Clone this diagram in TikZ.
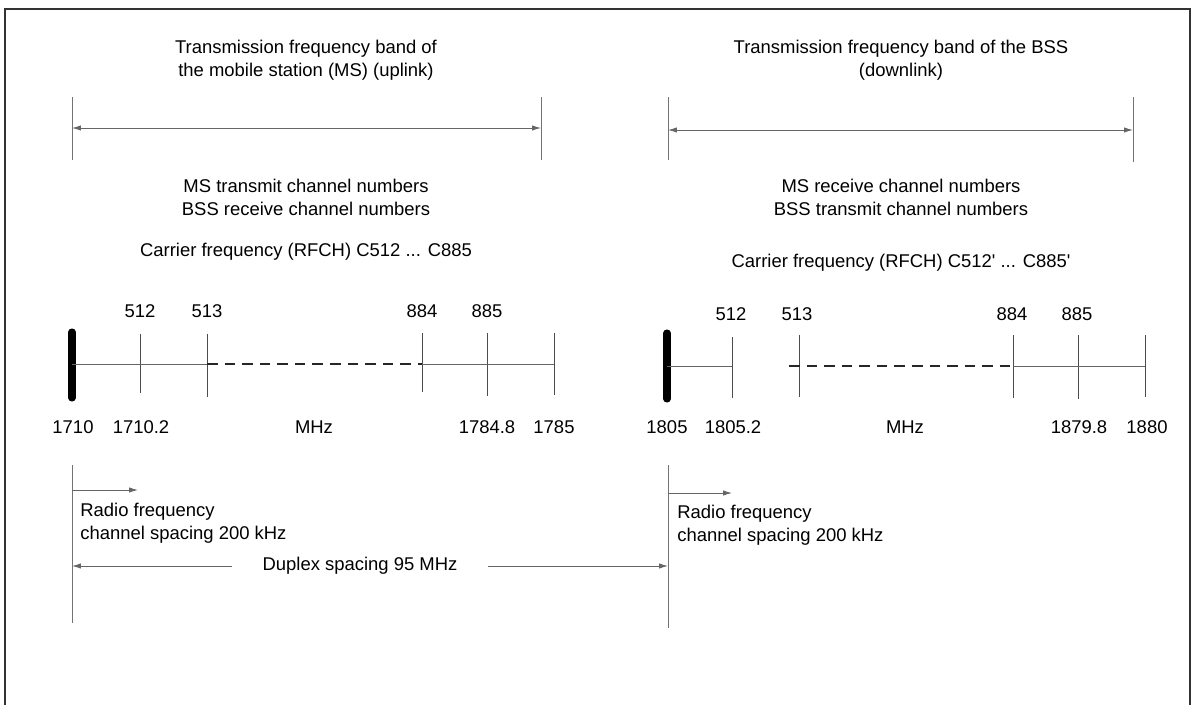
\documentclass[tikz,border=0pt]{standalone}
\usepackage{fontspec}
\setmainfont{Liberation Sans}
\usetikzlibrary{arrows.meta}
\begin{document}
\begin{tikzpicture}[x=0.02cm,y=-0.02cm,
  txt/.style={inner sep=0pt,font=\fontsize{10.5}{13.1}\selectfont,align=center},
  txtl/.style={txt,align=left,anchor=west},
  thin line/.style={draw=black!60,line width=0.5pt},
  ext/.style={draw=black!55,line width=0.45pt},
  tick/.style={draw=black!70,line width=0.5pt},
  dashseg/.style={draw=black!85,line width=0.6pt,dash pattern=on 6pt off 4pt},
  bar/.style={line width=4pt,line cap=round},
  dim/.style={draw=black!60,line width=0.5pt,{Latex[length=5pt,width=3pt]}-{Latex[length=5pt,width=3pt]}},
  dimr/.style={draw=black!60,line width=0.5pt,-{Latex[length=5pt,width=3pt]}},
  diml/.style={draw=black!60,line width=0.5pt,{Latex[length=5pt,width=3pt]}-},
  frame/.style={draw=black!80,line width=0.8pt}]
\useasboundingbox (0,0) rectangle (1191,705);

% outer frame (open at the bottom edge of the page)
\draw[frame] (5,705) -- (5,9) -- (1190,9) -- (1190,705);

% ---------------- uplink band ----------------
\node[txt] (tL) at (306,60) {Transmission frequency band of\\the mobile station (MS) (uplink)};
\draw[ext] (72,97) -- (72,160);
\draw[ext] (541,97) -- (541,160);
\coordinate (uA1) at (72,128);
\coordinate (uA2) at (541,128);
\draw[dim] (uA1) -- (uA2);
\node[txt] (chL) at (306,197) {MS transmit channel numbers\\BSS receive channel numbers};
\node[txt] (cfL) at (306,252) {Carrier frequency (RFCH) C512 ... C885};

% frequency axis
\coordinate (u0) at (72,364);
\coordinate (u1) at (140,364);
\coordinate (u2) at (207,364);
\coordinate (u3) at (422,364);
\coordinate (u4) at (487,364);
\coordinate (u5) at (554,364);
\draw[bar] (72,332) -- (72,398);
\draw[tick] (140,334) -- (140,393);
\draw[tick] (207,334) -- (207,397);
\draw[tick] (422,333) -- (422,392);
\draw[tick] (487,333) -- (487,396);
\draw[tick] (554,333) -- (554,395);
\draw[thin line] (u0) -- (u2);
\draw[dashseg] (u2) -- (u3);
\draw[thin line] (u3) -- (u5);
\node[txt] (n512) at (140,311) {512};
\node[txt] (n513) at (207,311) {513};
\node[txt] (n884) at (422,311) {884};
\node[txt] (n885) at (487,311) {885};
\node[txt] (f1710) at (73,427) {1710};
\node[txt] (f17102) at (141,427) {1710.2};
\node[txt] (mhzL) at (314,427) {MHz};
\node[txt] (f17848) at (487,427) {1784.8};
\node[txt] (f1785) at (554,427) {1785};

% channel spacing (uplink)
\draw[ext] (72,465) -- (72,623);
\coordinate (rsL1) at (72,490);
\coordinate (rsL2) at (138,490);
\draw[dimr] (rsL1) -- (rsL2);
\node[txtl,anchor=north west] (rfL) at (80,503) {Radio frequency\\channel spacing 200 kHz};

% duplex spacing
\coordinate (dx1) at (72,566);
\coordinate (dx2) at (232,566);
\coordinate (dx3) at (488,566);
\coordinate (dx4) at (668,566);
\node[txt] (dup) at (360,566) {Duplex spacing 95 MHz};
\draw[diml] (dx1) -- (dx2);
\draw[dimr] (dx3) -- (dx4);

% ---------------- downlink band ----------------
\node[txt] (tR) at (901,60) {Transmission frequency band of the BSS\\(downlink)};
\draw[ext] (668,97) -- (668,160);
\draw[ext] (1133,97) -- (1133,162);
\coordinate (dA1) at (668,130);
\coordinate (dA2) at (1133,130);
\draw[dim] (dA1) -- (dA2);
\node[txt] (chR) at (901,197) {MS receive channel numbers\\BSS transmit channel numbers};
\node[txt] (cfR) at (901,263) {Carrier frequency (RFCH) C512\textquotesingle{} ... C885\textquotesingle};

% frequency axis
\coordinate (d0) at (667,366);
\coordinate (d1) at (732,366);
\coordinate (d1b) at (789,366);
\coordinate (d3) at (1013,366);
\coordinate (d5) at (1145,366);
\draw[bar] (667,333) -- (667,399);
\draw[tick] (732,337) -- (732,398);
\draw[tick] (799,335) -- (799,397);
\draw[tick] (1013,335) -- (1013,398);
\draw[tick] (1078,335) -- (1078,399);
\draw[tick] (1145,335) -- (1145,397);
\draw[thin line] (d0) -- (d1);
\draw[dashseg] (d1b) -- (d3);
\draw[thin line] (d3) -- (d5);
\node[txt] (m512) at (731,314) {512};
\node[txt] (m513) at (797,314) {513};
\node[txt] (m884) at (1012,314) {884};
\node[txt] (m885) at (1077,314) {885};
\node[txt] (f1805) at (667,427) {1805};
\node[txt] (f18052) at (733,427) {1805.2};
\node[txt] (mhzR) at (905,427) {MHz};
\node[txt] (f18798) at (1079,427) {1879.8};
\node[txt] (f1880) at (1147,427) {1880};

% channel spacing (downlink)
\draw[ext] (668,465) -- (668,628);
\coordinate (rsR1) at (668,493);
\coordinate (rsR2) at (732,493);
\draw[dimr] (rsR1) -- (rsR2);
\node[txtl,anchor=north west] (rfR) at (677,505) {Radio frequency\\channel spacing 200 kHz};
\end{tikzpicture}
\end{document}
